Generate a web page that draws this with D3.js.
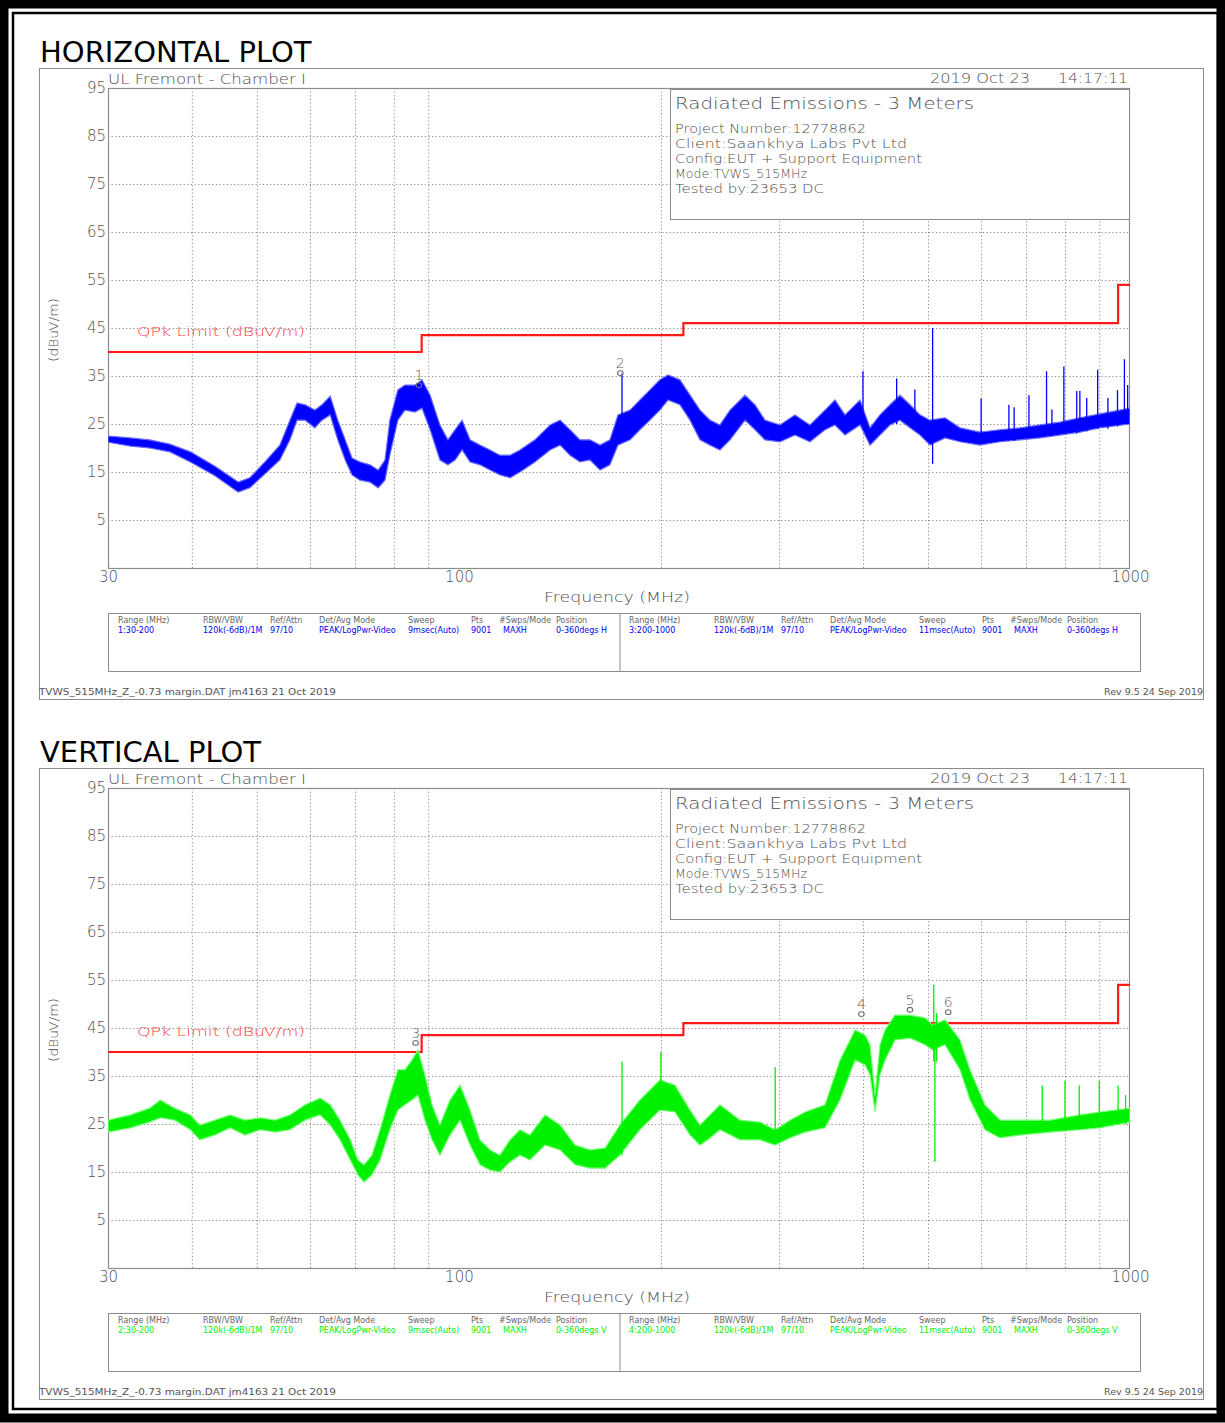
<!DOCTYPE html>
<html><head><meta charset="utf-8">
<script src="https://cdn.jsdelivr.net/npm/d3@7"></script>
<style>body{margin:0;background:#fff} svg{display:block} text{font-family:"DejaVu Sans",sans-serif}</style>
</head><body><svg id="c" width="1225" height="1423"></svg>
<script>
// ---------- DATA ----------
const panelTitles = ["HORIZONTAL PLOT", "VERTICAL PLOT"];
const yTicks = [95, 85, 75, 65, 55, 45, 35, 25, 15, 5];
const xTicks = [30, 100, 1000];
const xGrid = [40, 50, 60, 70, 80, 90, 200, 300, 400, 500, 600, 700, 800, 900];
const yGrid = [85, 75, 65, 55, 45, 35, 25, 15, 5];
const limitEdges = [30, 88, 216, 960, 1000];
const limitLevels = [40, 43.5, 46, 54];

// Horizontal trace envelope (MHz, dBuV/m)
const hFreq = [30, 32.4, 34.6, 37.1, 39.8, 43.3, 46.9, 48.8, 51.4, 54.1, 56, 57.4, 59, 61, 62.5, 64.3, 66, 67.7, 69.3, 71.2, 73.7, 75.8, 77.6, 78.9, 81.1, 83.1, 86, 88.1, 90.6, 93.7, 96.3, 98.7, 101.1, 103.9, 107.5, 111.3, 115.1, 119.2, 123.3, 129.8, 136.7, 141.5, 146.4, 151.5, 156.8, 162.3, 167.9, 172.6, 179.9, 186.1, 192.6, 199.3, 204.9, 213.5, 221, 228.7, 236.7, 244.9, 253.5, 266.9, 276.2, 285.8, 300.9, 316.8, 333.5, 351.2, 363.4, 376.1, 396, 409.8, 424.1, 438.9, 454.2, 470.1, 486.5, 503.5, 530.1, 558.1, 597.7, 640.2, 685.7, 734.3, 786.5, 842.4, 902.2, 1000];
const hHi = [22.5, 22.1, 21.7, 20.8, 19.2, 16.2, 12.9, 13.8, 17.1, 20.6, 25.8, 29.4, 29.0, 27.9, 29.0, 30.8, 25.8, 21.7, 17.9, 17.1, 16.5, 15.4, 17.5, 25.8, 32.1, 33.1, 33.1, 34.2, 31.0, 24.8, 21.7, 23.8, 25.8, 21.7, 20.6, 19.6, 18.5, 18.5, 19.6, 21.7, 24.8, 25.8, 23.8, 21.7, 21.7, 20.6, 21.7, 26.9, 27.9, 30.0, 32.1, 34.2, 35.2, 34.2, 31.0, 27.9, 25.8, 24.8, 27.9, 31.0, 29.0, 25.8, 24.8, 26.9, 24.8, 27.9, 30.0, 26.9, 30.0, 24.2, 26.9, 29.0, 31.0, 29.0, 26.9, 25.8, 26.3, 24.2, 23.3, 23.8, 24.2, 24.8, 25.4, 26.3, 27.1, 28.3];
const hLo = [21.2, 20.4, 20.0, 19.2, 17.1, 14.2, 10.8, 11.7, 14.6, 17.5, 21.7, 25.8, 25.8, 24.2, 25.8, 26.9, 21.7, 17.5, 14.4, 13.3, 12.9, 11.7, 13.3, 18.5, 25.8, 27.9, 27.5, 28.3, 23.8, 17.5, 16.5, 17.5, 19.6, 17.1, 16.5, 15.4, 14.4, 13.8, 15.0, 17.1, 19.6, 20.6, 18.5, 17.1, 17.5, 15.4, 16.5, 20.6, 21.7, 23.8, 25.8, 27.9, 30.0, 29.0, 25.8, 21.7, 20.6, 19.6, 21.7, 25.8, 23.8, 21.7, 21.3, 22.7, 21.3, 23.8, 24.8, 22.7, 24.8, 20.6, 22.7, 24.8, 25.8, 24.2, 22.7, 20.6, 22.1, 21.3, 20.6, 21.3, 21.7, 22.1, 22.7, 23.3, 24.2, 25.0];
// Horizontal narrow spikes
const hSpikeFreq = [175, 400, 449, 478, 508, 600, 660, 672, 707, 751, 765, 797, 833, 842, 862, 895, 927, 958, 981, 992];
const hSpikeTop  = [35.5, 36.0, 34.5, 32.2, 45.0, 30.3, 29.0, 28.5, 31.0, 36.0, 28.0, 37.0, 31.9, 31.9, 30.4, 36.3, 30.4, 32.1, 38.5, 33.1];
const hSpikeLow  = [22.0, 25.0, 25.0, 24.0, 16.7, 21.0, 21.5, 21.5, 22.0, 22.5, 22.5, 23.0, 23.0, 23.5, 23.5, 24.0, 24.0, 24.5, 25.0, 25.0];

// Vertical trace envelope
const vFreq = [30, 32.4, 34.6, 35.9, 37.7, 39.8, 41.1, 43.3, 45.6, 48.0, 50.6, 53.2, 56, 59, 62.1, 64.3, 66.5, 68.9, 70.7, 72.2, 74.2, 76.3, 78.9, 81.1, 83.1, 85.1, 86.9, 89.0, 91.2, 93.7, 97.0, 100.4, 103.9, 107.5, 111.3, 115.1, 119.2, 123.3, 127.6, 134.4, 141.5, 149, 156.8, 165.1, 173.8, 186.1, 199.3, 209.9, 221, 228.7, 236.7, 244.9, 262.4, 281, 295.8, 311.4, 328, 351.2, 369.7, 389.4, 403, 409.8, 417, 424.1, 431.5, 446.5, 470.1, 495, 508, 530.1, 558.1, 577.6, 608, 640.2, 685.7, 760, 842.4, 902.2, 1000];
const vHi = [25.8, 26.9, 28.3, 30.0, 28.3, 26.9, 24.8, 25.8, 26.9, 25.8, 26.3, 25.8, 26.9, 29.0, 30.4, 29.0, 25.8, 21.7, 17.5, 16.5, 18.5, 23.8, 31.0, 36.3, 36.3, 38.3, 40.4, 35.2, 29.0, 24.8, 30.0, 33.1, 27.9, 21.7, 19.6, 18.5, 21.7, 23.8, 22.7, 26.9, 24.8, 20.6, 19.6, 20.0, 24.8, 30.0, 34.2, 33.1, 27.9, 24.8, 26.9, 29.0, 25.8, 25.4, 23.8, 25.8, 27.5, 29.0, 38.3, 44.6, 43.5, 41.5, 31.0, 41.5, 44.6, 47.7, 47.7, 47.1, 45.6, 46.7, 42.5, 36.3, 29.0, 25.8, 25.8, 25.8, 26.9, 27.5, 28.3];
const vLo = [23.3, 24.2, 25.4, 26.3, 25.8, 23.8, 21.7, 22.7, 24.2, 22.7, 23.8, 23.3, 23.8, 25.8, 26.9, 24.8, 21.7, 17.5, 14.4, 12.9, 14.4, 17.5, 23.8, 27.9, 29.0, 30.0, 31.0, 25.8, 21.7, 18.5, 22.7, 25.8, 20.6, 16.5, 15.4, 15.0, 17.1, 18.5, 17.5, 20.6, 19.6, 16.5, 15.8, 15.8, 18.5, 23.8, 27.9, 27.5, 22.7, 20.6, 22.1, 23.8, 21.7, 21.7, 20.6, 22.1, 23.3, 24.2, 30.0, 38.3, 37.3, 35.2, 27.5, 35.2, 38.3, 42.5, 42.9, 41.5, 40.4, 41.5, 36.3, 30.0, 23.8, 22.1, 22.7, 23.3, 23.8, 24.2, 25.4];
const vSpikeFreq = [175, 200, 296, 510, 512, 515, 740, 800, 840, 900, 960, 985];
const vSpikeTop  = [38.0, 40.0, 36.8, 54.0, 44.0, 48.1, 33.0, 34.0, 33.0, 34.0, 33.0, 31.0];
const vSpikeLow  = [18.5, 27.9, 21.0, 38.0, 17.1, 38.0, 23.3, 23.5, 23.8, 24.2, 24.8, 25.0];

// Markers
const hMarkNum = [1, 2], hMarkFreq = [87.2, 174], hMarkDb = [33.1, 35.6];
const vMarkNum = [3, 4, 5, 6], vMarkFreq = [86.2, 397.9, 470, 536], vMarkDb = [41.9, 47.9, 48.8, 48.3];

// Text content
const siteText = "UL Fremont - Chamber I";
const dateText = "2019 Oct 23";
const timeText = "14:17:11";
const infoTitle = "Radiated Emissions - 3 Meters";
const infoLines = ["Project Number:12778862", "Client:Saankhya Labs Pvt Ltd", "Config:EUT + Support Equipment", "Mode:TVWS_515MHz", "Tested by:23653 DC"];
const tableHeaders = ["Range (MHz)", "RBW/VBW", "Ref/Attn", "Det/Avg Mode", "Sweep", "Pts", "#Swps/Mode", "Position"];
const hTableL = ["1:30-200", "120k(-6dB)/1M", "97/10", "PEAK/LogPwr-Video", "9msec(Auto)", "9001", "MAXH", "0-360degs H"];
const hTableR = ["3:200-1000", "120k(-6dB)/1M", "97/10", "PEAK/LogPwr-Video", "11msec(Auto)", "9001", "MAXH", "0-360degs H"];
const vTableL = ["2:30-200", "120k(-6dB)/1M", "97/10", "PEAK/LogPwr-Video", "9msec(Auto)", "9001", "MAXH", "0-360degs V"];
const vTableR = ["4:200-1000", "120k(-6dB)/1M", "97/10", "PEAK/LogPwr-Video", "11msec(Auto)", "9001", "MAXH", "0-360degs V"];
const footerLeft = "TVWS_515MHz_Z_-0.73 margin.DAT jm4163 21 Oct 2019";
const footerRight = "Rev 9.5 24 Sep 2019";

// ---------- DRAW ----------
const svg = d3.select("#c");
svg.append("rect").attr("width", 1225).attr("height", 1423).attr("fill", "#fff");
// outer frame
svg.append("rect").attr("x", 4).attr("y", 4).attr("width", 1217).attr("height", 1414).attr("fill", "none").attr("stroke", "#000").attr("stroke-width", 9);
svg.append("rect").attr("x", 13).attr("y", 13).attr("width", 1205).attr("height", 1396).attr("fill", "none").attr("stroke", "#000").attr("stroke-width", 2.5);

const GRAY = "#505050";
const PLOTFONT = "DejaVu Sans";
function T(g, x, y, s, size, opt = {}) {
  const t = g.append("text").attr("x", x).attr("y", y).text(s)
    .attr("font-size", size).attr("fill", opt.fill || GRAY)
    .attr("font-weight", opt.weight || 300);
  if (opt.anchor) t.attr("text-anchor", opt.anchor);
  if (opt.len) t.attr("textLength", opt.len).attr("lengthAdjust", "spacingAndGlyphs");
  if (opt.family) t.attr("font-family", opt.family);
  return t;
}

const panels = [
  { dy: 0, color: "#0000ff", light: "#6a6aff", f: hFreq, hi: hHi, lo: hLo, sf: hSpikeFreq, st: hSpikeTop, sl: hSpikeLow,
    mn: hMarkNum, mf: hMarkFreq, md: hMarkDb, tl: hTableL, tr: hTableR },
  { dy: 700, color: "#00f000", light: "#7dff7d", f: vFreq, hi: vHi, lo: vLo, sf: vSpikeFreq, st: vSpikeTop, sl: vSpikeLow,
    mn: vMarkNum, mf: vMarkFreq, md: vMarkDb, tl: vTableL, tr: vTableR }
];

panels.forEach((p, i) => {
  const dy = p.dy;
  const g = svg.append("g");
  const x = d3.scaleLog().domain([30, 1000]).range([108, 1130]);
  const y = d3.scaleLinear().domain([-5, 95]).range([568 + dy, 88 + dy]);

  T(g, 40, 62 + dy, panelTitles[i], 29, { fill: "#000", weight: 400, family: "Liberation Sans, Arial, sans-serif" });
  g.append("rect").attr("x", 39.5).attr("y", 68.5 + dy).attr("width", 1164).attr("height", 631)
    .attr("fill", "none").attr("stroke", "#8c8c8c").attr("stroke-width", 1);

  // grid
  g.append("g").attr("transform", `translate(0,${568 + dy})`)
    .call(d3.axisBottom(x).tickValues(xGrid).tickSize(-480).tickFormat(""))
    .call(a => a.select(".domain").remove())
    .call(a => a.selectAll("line").attr("stroke", "#8a8a8a").attr("stroke-dasharray", "1.2,2.4"));
  g.append("g").attr("transform", `translate(108,0)`)
    .call(d3.axisLeft(y).tickValues(yGrid).tickSize(-1022).tickFormat(""))
    .call(a => a.select(".domain").remove())
    .call(a => a.selectAll("line").attr("stroke", "#8a8a8a").attr("stroke-dasharray", "1.2,2.4"));

  // plot frame
  g.append("rect").attr("x", 108.5).attr("y", 88.5 + dy).attr("width", 1021).attr("height", 480)
    .attr("fill", "none").attr("stroke", "#8c8c8c").attr("stroke-width", 1.2);

  // tick labels
  g.append("g").attr("transform", `translate(106,0)`)
    .call(d3.axisLeft(y).tickValues(yTicks).tickSize(0).tickPadding(0))
    .call(a => a.select(".domain").remove())
    .call(a => a.selectAll("text").attr("font-size", 15).attr("fill", GRAY).attr("font-weight", 300).attr("font-family", PLOTFONT));
  g.append("g").attr("transform", `translate(0,${568 + dy})`)
    .call(d3.axisBottom(x).tickValues(xTicks).tickSize(0).tickPadding(3).tickFormat(d3.format("d")))
    .call(a => a.select(".domain").remove())
    .call(a => a.selectAll("text").attr("font-size", 15).attr("fill", GRAY).attr("font-weight", 300).attr("font-family", PLOTFONT));

  T(g, 617, 602 + dy, "Frequency (MHz)", 14, { anchor: "middle", len: 146 });
  g.append("text").attr("transform", `translate(58,${330 + dy}) rotate(-90)`).attr("text-anchor", "middle")
    .attr("font-size", 12).attr("fill", GRAY).attr("font-weight", 300)
    .attr("textLength", 64).attr("lengthAdjust", "spacingAndGlyphs").text("(dBuV/m)");
  T(g, 108, 84 + dy, siteText, 13.5, { len: 198 });
  T(g, 930, 83 + dy, dateText, 13.5, { len: 100 });
  T(g, 1058, 83 + dy, timeText, 13.5, { len: 70 });

  // clip
  const cid = "clip" + i;
  svg.append("clipPath").attr("id", cid).append("rect").attr("x", 108).attr("y", 88 + dy).attr("width", 1022).attr("height", 480);
  const pg = g.append("g").attr("clip-path", `url(#${cid})`);

  // limit line
  const lim = limitEdges.map((f, k) => ({ f, v: limitLevels[Math.min(k, limitLevels.length - 1)] }));
  pg.append("path").datum(lim)
    .attr("d", d3.line().x(d => x(d.f)).y(d => y(d.v)).curve(d3.curveStepAfter))
    .attr("fill", "none").attr("stroke", "#ff1a1a").attr("stroke-width", 2.2);
  T(g, 137, 336 + dy, "QPk Limit (dBuV/m)", 13, { fill: "#ff3b3b", len: 168 });

  // trace
  const data = p.f.map((f, k) => ({ f, hi: p.hi[k], lo: p.lo[k] }));
  pg.append("path").datum(data)
    .attr("d", d3.area().x(d => x(d.f)).y0(d => y(d.lo)).y1(d => y(d.hi)))
    .attr("fill", p.color).attr("stroke", p.light).attr("stroke-width", 1.2);
  p.sf.forEach((f, k) => {
    pg.append("line").attr("x1", x(f)).attr("x2", x(f)).attr("y1", y(p.sl[k])).attr("y2", y(p.st[k]))
      .attr("stroke", p.color).attr("stroke-width", 1.3);
  });

  // info box
  g.append("rect").attr("x", 670.5).attr("y", 89.5 + dy).attr("width", 459).attr("height", 130)
    .attr("fill", "#fff").attr("stroke", "#8c8c8c").attr("stroke-width", 1);
  T(g, 675, 109 + dy, infoTitle, 15, { len: 299 });
  const lens = [191, 232, 247, 132, 149];
  infoLines.forEach((s, k) => T(g, 675, 133 + 15 * k + dy, s, 12.5, { len: lens[k] }));

  // markers
  p.mn.forEach((n, k) => {
    const cx = x(p.mf[k]), cy = y(p.md[k]);
    g.append("ellipse").attr("cx", cx).attr("cy", cy).attr("rx", 2.8).attr("ry", 2.4)
      .attr("fill", "none").attr("stroke", "#707070").attr("stroke-width", 1.1);
    T(g, cx, cy - 5, String(n), 14, { anchor: "middle", fill: "#606060" });
  });

  // table
  g.append("rect").attr("x", 108.5).attr("y", 613.5 + dy).attr("width", 1032).attr("height", 58)
    .attr("fill", "none").attr("stroke", "#8c8c8c").attr("stroke-width", 1);
  g.append("line").attr("x1", 620).attr("x2", 620).attr("y1", 613 + dy).attr("y2", 672 + dy)
    .attr("stroke", "#8c8c8c");
  const colL = [118, 203, 270, 319, 408, 471, 499, 556];
  const valL = [118, 203, 270, 319, 408, 471, 503, 556];
  const colOff = 511;
  [[p.tl, 0], [p.tr, colOff]].forEach(([vals, off]) => {
    tableHeaders.forEach((h, k) => T(g, colL[k] + off, 623 + dy, h, 8, { fill: "#666", weight: 400, family: "Liberation Sans" }));
    vals.forEach((v, k) => T(g, valL[k] + off, 633 + dy, v, 8, { fill: p.color, weight: 400, family: "Liberation Sans" }));
  });

  // footer
  T(g, 39, 695 + dy, footerLeft, 9.5, { fill: "#555", weight: 400, len: 297, family: "Liberation Sans" });
  T(g, 1203, 695 + dy, footerRight, 9.5, { fill: "#555", weight: 400, anchor: "end", family: "Liberation Sans" });
});
</script></body></html>
